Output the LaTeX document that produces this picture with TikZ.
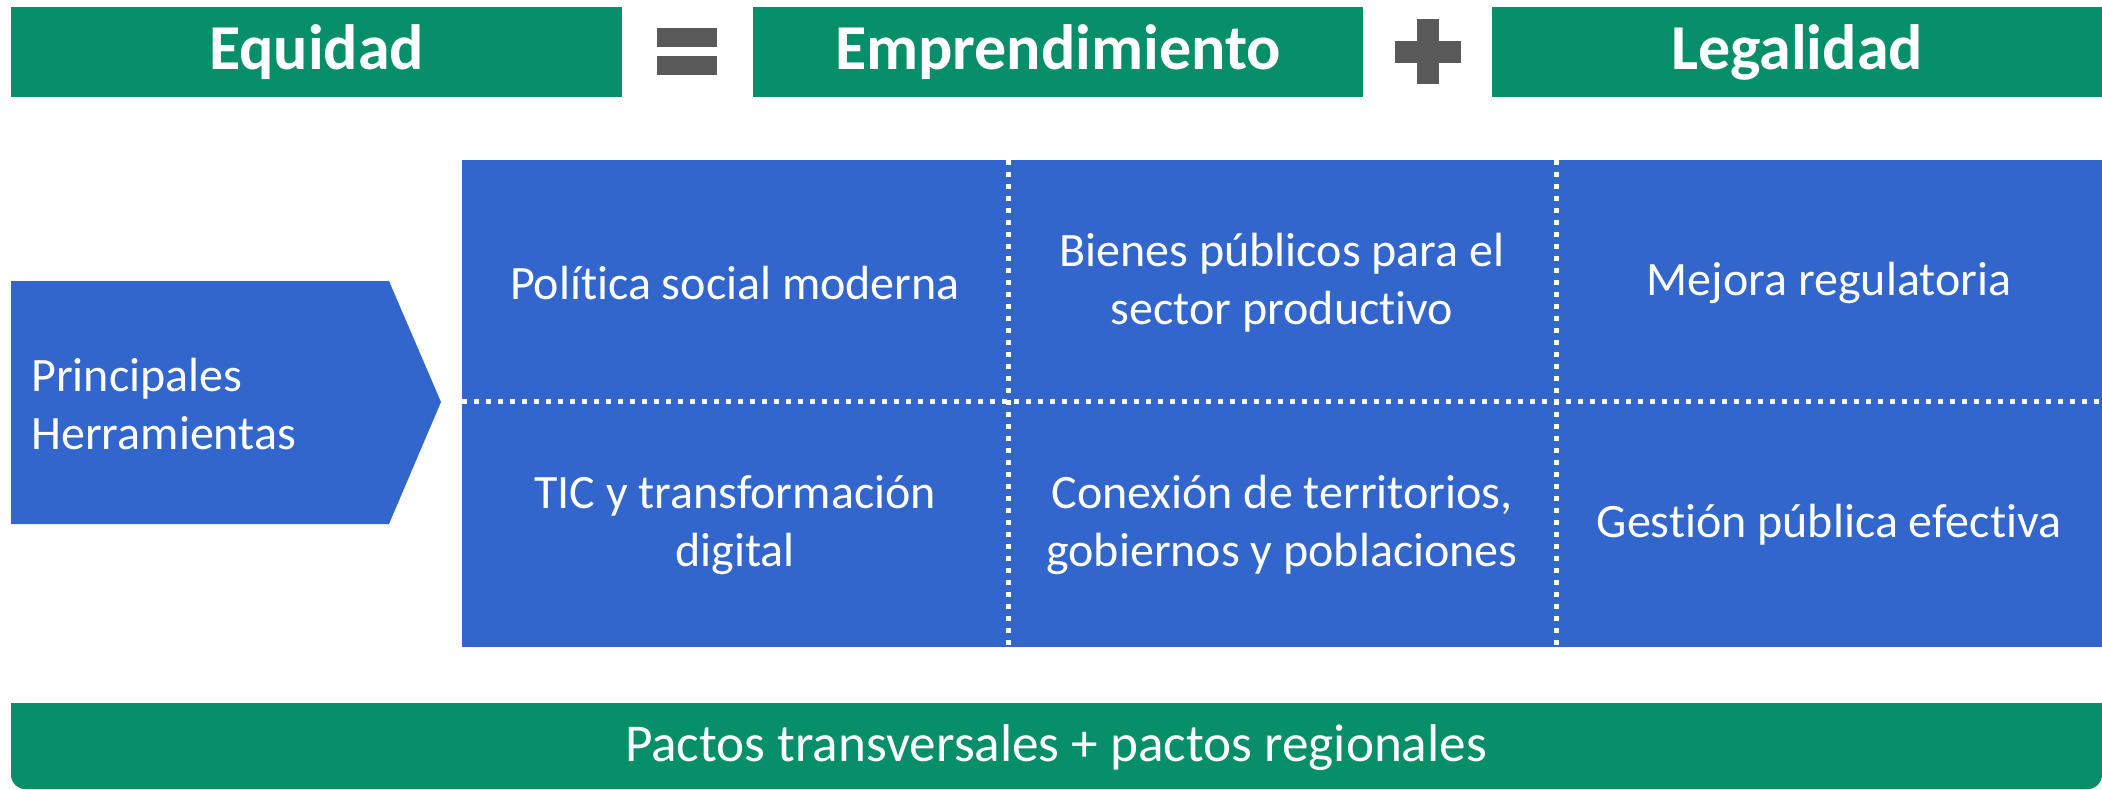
\documentclass[tikz,border=0pt]{standalone}
\usepackage{fontspec}
\setmainfont{Carlito}[Ligatures=NoCommon]
\definecolor{grn}{HTML}{078F69}
\definecolor{blu}{HTML}{3366CC}
\definecolor{sgn}{HTML}{595959}
\begin{document}
\begin{tikzpicture}[x=0.5pt,y=-0.5pt,
  topbox/.style={fill=grn, text=white, font=\bfseries\fontsize{32}{38}\selectfont,
    minimum height=45pt, inner sep=0pt, outer sep=0pt},
  celltext/.style={text=white, font=\fontsize{24}{29}\selectfont, align=center, inner sep=0pt},
  dotline/.style={white, line width=2.5pt, dash pattern=on 2.5pt off 3.5pt},
  signpart/.style={fill=sgn}
]
\useasboundingbox (0,0) rectangle (2102,789);
% top row
\node[topbox, minimum width=305.5pt] (eq) at (316.5,52) {Equidad};
\node[topbox, minimum width=305pt] (em) at (1058,52) {Emprendimiento};
\node[topbox, minimum width=305pt] (le) at (1797,52) {Legalidad};
% equals sign
\fill[signpart] (657,28) rectangle (717,47);
\fill[signpart] (657,56) rectangle (717,75);
% plus sign
\fill[signpart] (1417,19) rectangle (1439,84);
\fill[signpart] (1395,41) rectangle (1461,63);
% pentagon arrow
\fill[blu] (11,281) -- (389,281) -- (441,402) -- (389,524) -- (11,524) -- cycle;
\node[celltext, anchor=west, align=left] (ph) at (31,404) {Principales\\Herramientas};
% grid
\fill[blu] (462,160) rectangle (2102,647);
\node[celltext] (c11) at (735,283) {Política social moderna};
\node[celltext] (c12) at (1282,283) {Bienes públicos para el\\sector productivo};
\node[celltext] (c13) at (1829,283) {Mejora regulatoria};
\node[celltext] (c21) at (735,525) {TIC y transformación\\digital};
\node[celltext] (c22) at (1282,525) {Conexión de territorios,\\gobiernos y poblaciones};
\node[celltext] (c23) at (1829,525) {Gestión pública efectiva};
\draw[dotline] (1008,160) -- (1008,647);
\draw[dotline] (1556,160) -- (1556,647);
\draw[dotline] (462,401) -- (2102,401);
% bottom bar
\fill[grn] (2102,740) [rounded corners=7pt] -- (2102,789) -- (11,789) -- (11,740) [sharp corners] -- (11,703) -- (2102,703) -- cycle;
\node[celltext, font=\fontsize{26.6}{32}\selectfont] (pact) at (1056,748) {Pactos transversales + pactos regionales};
\end{tikzpicture}
\end{document}
